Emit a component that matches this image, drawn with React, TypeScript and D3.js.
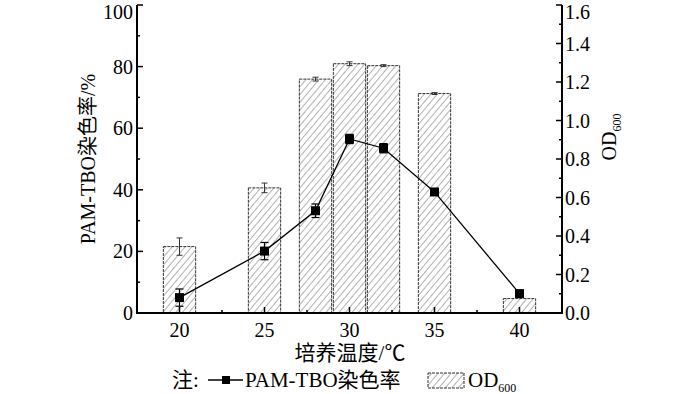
import * as d3 from 'd3'

const temps = [20, 25, 28, 30, 32, 35, 40]
const dyeRate = [5, 20.1, 33.2, 56.5, 53.5, 39.3, 6.3]
const dyeErr = [2.8, 2.8, 2.2, 1.5, 1.5, 0.8, 1]
const od600 = [0.345, 0.65, 1.215, 1.295, 1.285, 1.14, 0.075]
const odErr = [0.045, 0.025, 0.01, 0.01, 0.005, 0.005, 0]

const xTicks = [20, 25, 30, 35, 40]
const xMinor = [22.5, 27.5, 32.5, 37.5]
const leftTicks = [0, 20, 40, 60, 80, 100]
const leftMinor = [10, 30, 50, 70, 90]
const rightTicks = [0, 0.2, 0.4, 0.6, 0.8, 1.0, 1.2, 1.4, 1.6]
const rightMinor = [0.1, 0.3, 0.5, 0.7, 0.9, 1.1, 1.3, 1.5]

const FONT = "'Liberation Serif', 'Noto Sans CJK SC', serif"

export default function App() {
  const margin = { top: 5, left: 137, right: 562, bottom: 313 }

  const x = d3.scaleLinear().domain([17.5, 42.5]).range([margin.left, margin.right])
  const yL = d3.scaleLinear().domain([0, 100]).range([margin.bottom, margin.top])
  const yR = d3.scaleLinear().domain([0, 1.6]).range([margin.bottom, margin.top])

  const halfBar = 0.95
  const line = d3
    .line<number>()
    .x((_, i) => x(temps[i]))
    .y((d) => yL(d))

  // top labels sit a bit lower so they are not clipped
  const labelY = (py: number) => Math.max(py + 7, 19)

  return (
    <div style={{ position: 'fixed', left: 0, top: 0 }}>
      <svg width={700} height={394} style={{ display: 'block', background: '#fff' }} fontFamily={FONT}>
        <defs>
          <pattern id="hatch" width={5} height={5} patternUnits="userSpaceOnUse" patternTransform="rotate(40)">
            <rect width={5} height={5} fill="#fff" />
            <line x1={0} y1={0} x2={0} y2={5} stroke="#666" strokeWidth={1} />
          </pattern>
        </defs>

        {/* OD600 bars */}
        {temps.map((t, i) => {
          const x0 = x(t - halfBar)
          const x1 = x(t + halfBar)
          const top = yR(od600[i])
          return (
            <g key={'b' + t}>
              <rect
                x={x0}
                y={top}
                width={x1 - x0}
                height={margin.bottom - top}
                fill="url(#hatch)"
                stroke="#333"
                strokeWidth={1}
                strokeDasharray="3,1"
              />
              {odErr[i] > 0 && (
                <g stroke="#333" strokeWidth={1}>
                  <line x1={x(t)} x2={x(t)} y1={yR(od600[i] + odErr[i])} y2={yR(od600[i] - odErr[i])} />
                  <line x1={x(t) - 3} x2={x(t) + 3} y1={yR(od600[i] + odErr[i])} y2={yR(od600[i] + odErr[i])} />
                  <line x1={x(t) - 3} x2={x(t) + 3} y1={yR(od600[i] - odErr[i])} y2={yR(od600[i] - odErr[i])} />
                </g>
              )}
            </g>
          )
        })}

        {/* dye rate line */}
        <path d={line(dyeRate) ?? ''} fill="none" stroke="#000" strokeWidth={1.3} />
        {temps.map((t, i) => (
          <g key={'m' + t}>
            <g stroke="#000" strokeWidth={1.2}>
              <line x1={x(t)} x2={x(t)} y1={yL(dyeRate[i] + dyeErr[i])} y2={yL(dyeRate[i] - dyeErr[i])} />
              <line x1={x(t) - 4} x2={x(t) + 4} y1={yL(dyeRate[i] + dyeErr[i])} y2={yL(dyeRate[i] + dyeErr[i])} />
              <line x1={x(t) - 4} x2={x(t) + 4} y1={yL(dyeRate[i] - dyeErr[i])} y2={yL(dyeRate[i] - dyeErr[i])} />
            </g>
            <rect x={x(t) - 4.5} y={yL(dyeRate[i]) - 4.5} width={9} height={9} fill="#000" />
          </g>
        ))}

        {/* axes */}
        <g stroke="#000" strokeWidth={2} fill="none">
          <line x1={margin.left} x2={margin.left} y1={margin.top} y2={margin.bottom + 1} />
          <line x1={margin.right} x2={margin.right} y1={margin.top} y2={margin.bottom + 1} />
          <line x1={margin.left - 1} x2={margin.right + 1} y1={margin.bottom} y2={margin.bottom} />
        </g>
        <g stroke="#000" strokeWidth={1.5}>
          {leftTicks.map((v) => (
            <line key={'lt' + v} x1={margin.left} x2={margin.left + 6} y1={yL(v)} y2={yL(v)} />
          ))}
          {leftMinor.map((v) => (
            <line key={'lm' + v} x1={margin.left} x2={margin.left + 3} y1={yL(v)} y2={yL(v)} />
          ))}
          {rightTicks.map((v) => (
            <line key={'rt' + v} x1={margin.right} x2={margin.right - 6} y1={yR(v)} y2={yR(v)} />
          ))}
          {rightMinor.map((v) => (
            <line key={'rm' + v} x1={margin.right} x2={margin.right - 3} y1={yR(v)} y2={yR(v)} />
          ))}
          {xTicks.map((v) => (
            <line key={'xt' + v} x1={x(v)} x2={x(v)} y1={margin.bottom} y2={margin.bottom - 6} />
          ))}
          {xMinor.map((v) => (
            <line key={'xm' + v} x1={x(v)} x2={x(v)} y1={margin.bottom} y2={margin.bottom - 3} />
          ))}
        </g>

        <g fontSize={20} fill="#000">
          {leftTicks.map((v) => (
            <text key={'ll' + v} x={margin.left - 4} y={labelY(yL(v))} textAnchor="end">
              {v}
            </text>
          ))}
          {rightTicks.map((v) => (
            <text key={'rl' + v} x={margin.right + 3} y={labelY(yR(v))}>
              {d3.format('.1f')(v)}
            </text>
          ))}
          {xTicks.map((v) => (
            <text key={'xl' + v} x={x(v)} y={337} textAnchor="middle">
              {v}
            </text>
          ))}
        </g>

        {/* axis titles */}
        <text transform="translate(95,159) rotate(-90)" textAnchor="middle" fontSize={20}>
          PAM-TBO染色率/%
        </text>
        <text transform="translate(616,137) rotate(-90)" textAnchor="middle" fontSize={20}>
          OD<tspan fontSize={12} dy={5}>600</tspan>
        </text>
        <text x={350} y={360} textAnchor="middle" fontSize={21}>
          培养温度/℃
        </text>

        {/* legend */}
        <g fontSize={21}>
          <text x={172} y={387}>注:</text>
          <line x1={208} x2={243} y1={380} y2={380} stroke="#000" strokeWidth={1.3} />
          <rect x={222} y={376} width={8} height={8} fill="#000" />
          <text x={245} y={387}>PAM-TBO染色率</text>
          <rect x={428} y={373} width={36} height={15} fill="url(#hatch)" stroke="#333" strokeWidth={1} strokeDasharray="3,1" />
          <text x={468} y={387}>
            OD<tspan fontSize={12} dy={5}>600</tspan>
          </text>
        </g>
      </svg>
    </div>
  )
}
